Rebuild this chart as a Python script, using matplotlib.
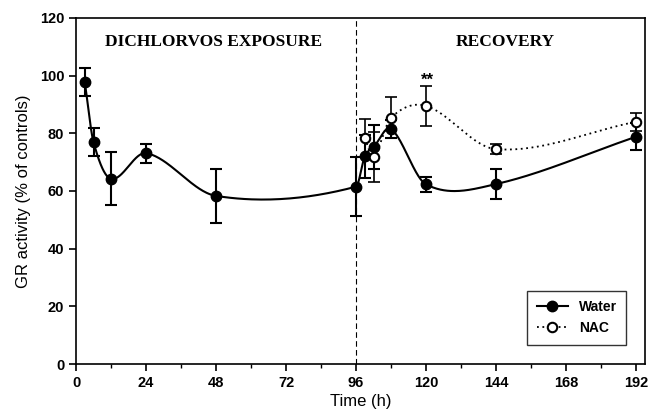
import numpy as np
import matplotlib.pyplot as plt

# data
water_t = [3, 6, 12, 24, 48, 96, 99, 102, 108, 120, 144, 192]
water_y = [97.7, 76.9, 64.2, 73.1, 58.3, 61.5, 72.0, 75.2, 81.5, 62.3, 62.4, 78.8]
water_err = [4.9, 4.9, 9.2, 3.3, 9.4, 10.3, 7.5, 7.7, 3.2, 2.5, 5.2, 4.6]

nac_t = [99, 102, 108, 120, 144, 192]
nac_y = [78.3, 71.9, 85.4, 89.5, 74.5, 84.0]
nac_err = [6.6, 8.7, 7.1, 7.0, 1.8, 3.2]

xticks = [0, 24, 48, 72, 96, 120, 144, 168, 192]
yticks = [0, 20, 40, 60, 80, 100, 120]


def smooth_curve(x, y, n=60):
    # cubic Hermite (Catmull-Rom style tangents) through the points
    x = np.asarray(x, float)
    y = np.asarray(y, float)
    m = np.empty_like(y)
    m[1:-1] = (y[2:] - y[:-2]) / (x[2:] - x[:-2])
    m[0] = (y[1] - y[0]) / (x[1] - x[0])
    m[-1] = (y[-1] - y[-2]) / (x[-1] - x[-2])
    xs_all, ys_all = [], []
    for i in range(len(x) - 1):
        h = x[i + 1] - x[i]
        t = np.linspace(0, 1, n)
        h00 = 2 * t**3 - 3 * t**2 + 1
        h10 = t**3 - 2 * t**2 + t
        h01 = -2 * t**3 + 3 * t**2
        h11 = t**3 - t**2
        xs_all.append(x[i] + t * h)
        ys_all.append(h00 * y[i] + h10 * h * m[i] + h01 * y[i + 1] + h11 * h * m[i + 1])
    return np.concatenate(xs_all), np.concatenate(ys_all)


plt.rcParams['font.family'] = ['Liberation Sans', 'DejaVu Sans']

fig = plt.figure(figsize=(6.5, 4.17), dpi=100)
ax = fig.add_axes([0.117, 0.127, 0.875, 0.83])

ax.axvline(96, color='black', lw=0.8, ls=(0, (5, 3)))

xs, ys = smooth_curve(water_t, water_y)
ax.plot(xs, ys, color='black', lw=1.5)
xs, ys = smooth_curve(nac_t, nac_y)
ax.plot(xs, ys, color='black', lw=1.3, ls=(0, (1, 2)))

ax.errorbar(nac_t, nac_y, yerr=nac_err, fmt='none', ecolor='black',
            elinewidth=1.2, capsize=4, capthick=1.2)
ax.errorbar(water_t, water_y, yerr=water_err, fmt='none', ecolor='black',
            elinewidth=1.5, capsize=4, capthick=1.5)

ax.plot(water_t, water_y, 'o', color='black', ms=7.5, zorder=5)
ax.plot(nac_t, nac_y, 'o', mfc='white', mec='black', mew=1.5, ms=6.8, zorder=5)

ax.plot([], [], '-o', color='black', ms=7.5, lw=1.5, label='Water')
ax.plot([], [], 'o', ls=(0, (1, 2)), color='black', mfc='white', mew=1.5,
        ms=6.8, lw=1.3, label='NAC')
leg = ax.legend(loc='lower right', bbox_to_anchor=(0.98, 0.035), frameon=True,
                fancybox=False, edgecolor='black', prop={'weight': 'bold', 'size': 10},
                handlelength=2.2, borderpad=0.7)
leg.get_frame().set_linewidth(1.0)

ax.text(47, 111.5, 'DICHLORVOS EXPOSURE', family='Liberation Serif',
        weight='bold', fontsize=12.5, ha='center', va='center')
ax.text(147, 111.5, 'RECOVERY', family='Liberation Serif',
        weight='bold', fontsize=12.5, ha='center', va='center')
ax.text(120.4, 98.5, '**', fontsize=12, weight='bold', ha='center', va='center')

ax.set_xlim(0, 195)
ax.set_ylim(0, 120)
ax.set_xticks(xticks)
ax.set_xticks(np.arange(12, 195, 24), minor=True)
ax.set_yticks(yticks)
ax.tick_params(direction='out', length=5, width=1.2, labelsize=10.5)
ax.tick_params(which='minor', direction='out', length=3, width=1)
for lab in ax.get_xticklabels() + ax.get_yticklabels():
    lab.set_fontweight('bold')
for sp in ax.spines.values():
    sp.set_linewidth(1.2)

ax.set_xlabel('Time (h)', fontsize=12, labelpad=3)
ax.set_ylabel('GR activity (% of controls)', fontsize=12, labelpad=6)

fig.savefig('out.png', dpi=100)
